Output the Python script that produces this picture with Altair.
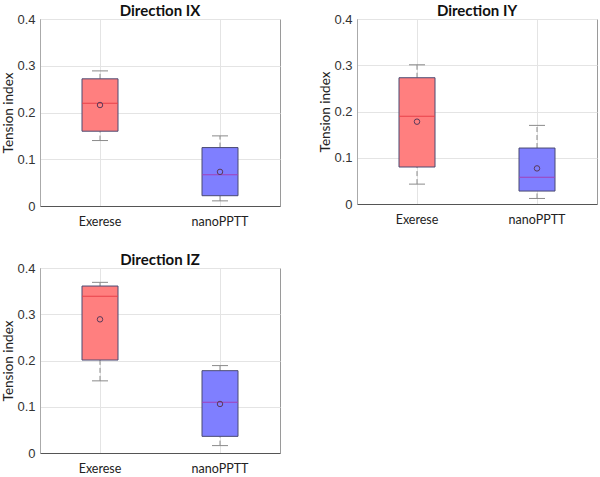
import altair as alt
import pandas as pd

categories = ["Exerese", "nanoPPTT"]
panel_titles = ["Direction IX", "Direction IY", "Direction IZ"]

# summary statistics per panel: [Exerese, nanoPPTT]
ix_low = [0.140, 0.011]
ix_q1 = [0.160, 0.022]
ix_med = [0.220, 0.067]
ix_q3 = [0.272, 0.125]
ix_high = [0.289, 0.150]
ix_mean = [0.216, 0.073]

iy_low = [0.043, 0.012]
iy_q1 = [0.080, 0.028]
iy_med = [0.190, 0.058]
iy_q3 = [0.273, 0.121]
iy_high = [0.301, 0.170]
iy_mean = [0.178, 0.077]

iz_low = [0.156, 0.016]
iz_q1 = [0.201, 0.036]
iz_med = [0.339, 0.110]
iz_q3 = [0.361, 0.178]
iz_high = [0.369, 0.189]
iz_mean = [0.289, 0.106]

y_ticks = [0, 0.1, 0.2, 0.3, 0.4]

FILL = ["#ff7f7f", "#7f7fff"]
MED = ["#e8404a", "#a040b8"]
LABEL_FONT = "Lato"
NUM_FONT = "Liberation Sans"


def make_panel(title, low, q1, med, q3, high, mean, width, height, title_pad=1.5):
    df = pd.DataFrame({
        "cat": categories, "low": low, "q1": q1, "med": med,
        "q3": q3, "high": high, "mean": mean,
    })
    x = alt.X(
        "cat:N",
        scale=alt.Scale(domain=categories, paddingInner=0.7, paddingOuter=0.35),
        axis=alt.Axis(title=None, labelAngle=0, grid=True, gridColor="#e4e4e4",
                      ticks=False, domainColor="#555", labelPadding=9,
                      labelFont=LABEL_FONT, labelFontSize=12.5, labelColor="#222"),
    )
    yscale = alt.Scale(domain=[0, 0.4], nice=False)
    yaxis = alt.Axis(values=y_ticks, format=".1~f", grid=True, gridColor="#e4e4e4",
                     ticks=False, domainColor="#aaa", labelPadding=5,
                     labelFont=NUM_FONT, labelFontSize=13, labelColor="#333",
                     title="Tension index", titleFont=LABEL_FONT, titleFontSize=13.5,
                     titleFontWeight="normal", titleColor="#222", titlePadding=title_pad)
    base = alt.Chart(df)
    wl = base.mark_rule(color="#8a8a8a", strokeDash=[5, 3], strokeWidth=1).encode(
        x=x, y=alt.Y("low:Q", scale=yscale, axis=yaxis), y2="q1:Q")
    wh = base.mark_rule(color="#8a8a8a", strokeDash=[5, 3], strokeWidth=1).encode(
        x=x, y=alt.Y("q3:Q", scale=yscale, axis=yaxis), y2="high:Q")
    cap_l = base.mark_tick(color="#8a8a8a", size=16, thickness=1, opacity=1).encode(
        x=x, y=alt.Y("low:Q", scale=yscale, axis=yaxis))
    cap_h = base.mark_tick(color="#8a8a8a", size=16, thickness=1, opacity=1).encode(
        x=x, y=alt.Y("high:Q", scale=yscale, axis=yaxis))
    box = base.mark_bar(stroke="#4a4a72", strokeWidth=1, opacity=1).encode(
        x=x, y=alt.Y("q1:Q", scale=yscale, axis=yaxis), y2="q3:Q",
        fill=alt.Fill("cat:N", scale=alt.Scale(domain=categories, range=FILL), legend=None))
    medl = base.mark_tick(size=36, thickness=1, opacity=1).encode(
        x=x, y=alt.Y("med:Q", scale=yscale, axis=yaxis),
        color=alt.Color("cat:N", scale=alt.Scale(domain=categories, range=MED), legend=None))
    mn = base.mark_point(shape="circle", filled=False, size=30, strokeWidth=1,
                         color="#5a3a5a", opacity=1).encode(
        x=x, y=alt.Y("mean:Q", scale=yscale, axis=yaxis))
    return alt.layer(wl, wh, cap_l, cap_h, box, medl, mn).properties(
        width=width, height=height,
        title=alt.TitleParams(title, fontSize=15, fontWeight="bold", font=LABEL_FONT,
                              color="#111", offset=-6, anchor="middle", frame="group"),
    )


p1 = make_panel(panel_titles[0], ix_low, ix_q1, ix_med, ix_q3, ix_high, ix_mean, 240, 187)
p2 = make_panel(panel_titles[1], iy_low, iy_q1, iy_med, iy_q3, iy_high, iy_mean, 240, 185)
p3 = make_panel(panel_titles[2], iz_low, iz_q1, iz_med, iz_q3, iz_high, iz_mean, 240, 185)

chart = alt.vconcat(
    alt.hconcat(p1, p2, spacing=36),
    p3,
    spacing=24,
).properties(
    padding={"left": 0, "top": 3, "right": 0, "bottom": 0},
    background="white",
).configure_view(stroke="#9a9a9a")

chart.save("out.html", embed_options={"renderer": "svg", "actions": False})
